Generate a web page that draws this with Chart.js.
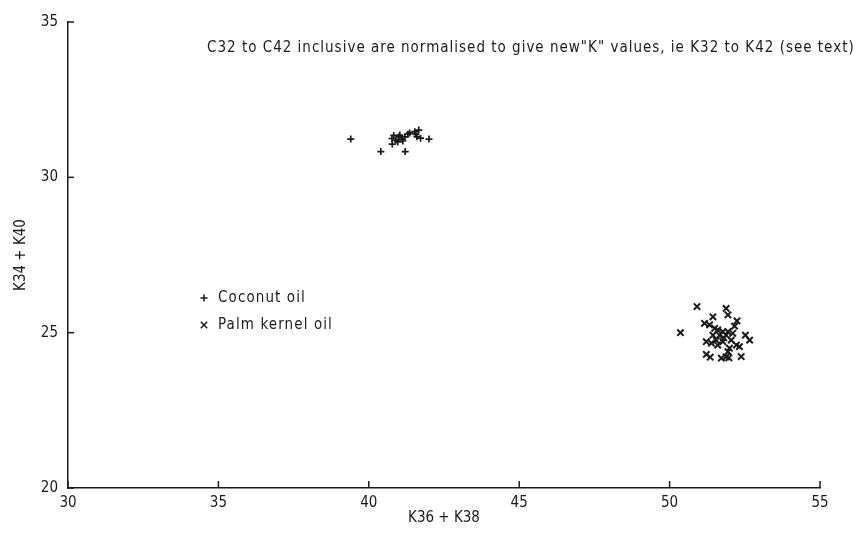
<!DOCTYPE html>
<html><head><meta charset="utf-8">
<script src="https://cdn.jsdelivr.net/npm/chart.js@4.4.1/dist/chart.umd.min.js"></script>
<style>html,body{margin:0;padding:0;background:#fff}</style>
</head><body>
<canvas id="c" width="862" height="534"></canvas>
<script>
// ---- data ----
const seriesNames = ["Coconut oil", "Palm kernel oil"];
const coconutX = [39.4, 40.40, 41.21, 40.78, 40.77, 40.90, 41.00, 41.10, 41.20, 40.96, 41.13, 41.03, 41.30, 40.83, 41.36, 41.53, 41.66, 41.60, 41.72, 41.56, 42.00];
const coconutY = [31.23, 30.83, 30.83, 31.07, 31.25, 31.20, 31.30, 31.23, 31.30, 31.14, 31.17, 31.36, 31.39, 31.35, 31.43, 31.47, 31.52, 31.31, 31.26, 31.39, 31.23];
const palmX = [50.91, 50.36, 51.88, 51.94, 51.44, 52.24, 52.16, 51.16, 51.33, 51.50, 51.60, 51.77, 51.94, 52.10, 51.44, 51.66, 51.88, 51.55, 51.77, 52.05, 51.22, 51.39, 52.22, 51.99, 52.32, 51.94, 52.52, 52.66, 51.22, 51.35, 51.72, 51.88, 51.97, 52.38, 51.80, 51.60];
const palmY = [25.84, 25.00, 25.78, 25.57, 25.51, 25.38, 25.21, 25.30, 25.25, 25.14, 25.09, 25.03, 25.03, 24.98, 24.92, 24.92, 24.92, 24.76, 24.71, 24.76, 24.71, 24.66, 24.60, 24.50, 24.55, 24.39, 24.92, 24.76, 24.30, 24.21, 24.18, 24.22, 24.19, 24.23, 24.83, 24.60];
const xTicks = [30, 35, 40, 45, 50, 55];
const yTicks = [20, 25, 30, 35];
const xTitle = "K36 + K38";
const yTitle = "K34 + K40";
const noteText = "C32 to C42 inclusive are normalised to give new\"K\" values, ie K32 to K42 (see text)";

const FONT = "'DejaVu Sans Condensed', 'DejaVu Sans', sans-serif";
const INK = "#1a1a1a";

function pts(xs, ys) { return xs.map((x, i) => ({ x: x, y: ys[i] })); }

const inwardTicks = {
  id: 'inwardTicks',
  afterDraw(chart) {
    const ctx = chart.ctx, xs = chart.scales.x, ys = chart.scales.y;
    ctx.save();
    ctx.strokeStyle = INK; ctx.lineWidth = 1.5;
    xTicks.forEach(v => {
      const px = xs.getPixelForValue(v);
      ctx.beginPath(); ctx.moveTo(px, xs.top); ctx.lineTo(px, xs.top - 7); ctx.stroke();
    });
    yTicks.forEach(v => {
      const py = ys.getPixelForValue(v);
      ctx.beginPath(); ctx.moveTo(ys.right, py); ctx.lineTo(ys.right + 6, py); ctx.stroke();
    });
    // note text
    ctx.fillStyle = INK;
    ctx.font = "15px " + FONT;
    ctx.textAlign = 'left'; ctx.textBaseline = 'middle';
    ctx.letterSpacing = '1px';
    ctx.fillText(noteText, 207, 48);
    ctx.letterSpacing = '1.1px';
    // legend
    chart.data.datasets.forEach((ds, i) => {
      const y = 298 + i * 27;
      Chart.helpers.drawPoint(ctx, { pointStyle: ds.pointStyle, radius: ds.pointRadius, borderWidth: 1.5 }, 204, y);
      ctx.fillStyle = INK;
      ctx.fillText(ds.label, 218, y);
    });
    ctx.restore();
  }
};

new Chart(document.getElementById('c'), {
  type: 'scatter',
  data: {
    datasets: [
      { label: seriesNames[0], data: pts(coconutX, coconutY), pointStyle: 'cross', pointRadius: 3.5, pointBorderWidth: 1.7, borderColor: INK, backgroundColor: INK },
      { label: seriesNames[1], data: pts(palmX, palmY), pointStyle: 'crossRot', pointRadius: 4.5, pointBorderWidth: 2, borderColor: INK, backgroundColor: INK }
    ]
  },
  options: {
    responsive: false, animation: false, devicePixelRatio: 1,
    layout: { padding: { top: 22, right: 42, left: 0, bottom: 0 } },
    plugins: { legend: { display: false }, tooltip: { enabled: false } },
    scales: {
      x: {
        type: 'linear', min: 30, max: 55,
        afterBuildTicks: s => { s.ticks = xTicks.map(v => ({ value: v })); },
        afterFit: s => { s.height = 46; },
        grid: { display: false },
        border: { display: true, color: INK, width: 1.5 },
        ticks: { color: INK, font: { family: FONT, size: 15 }, padding: -2, maxRotation: 0 },
        title: { display: true, text: xTitle, color: INK, font: { family: FONT, size: 15 }, padding: { top: 0, bottom: 7 } }
      },
      y: {
        type: 'linear', min: 20, max: 35,
        afterBuildTicks: s => { s.ticks = yTicks.map(v => ({ value: v })); },
        afterFit: s => { s.width = 68; },
        grid: { display: false },
        border: { display: true, color: INK, width: 1.5 },
        ticks: { color: INK, font: { family: FONT, size: 15 }, padding: 2 },
        title: { display: true, text: yTitle, color: INK, font: { family: FONT, size: 15 }, padding: { top: 12, bottom: 0 } }
      }
    }
  },
  plugins: [inwardTicks]
});
</script>
</body></html>
